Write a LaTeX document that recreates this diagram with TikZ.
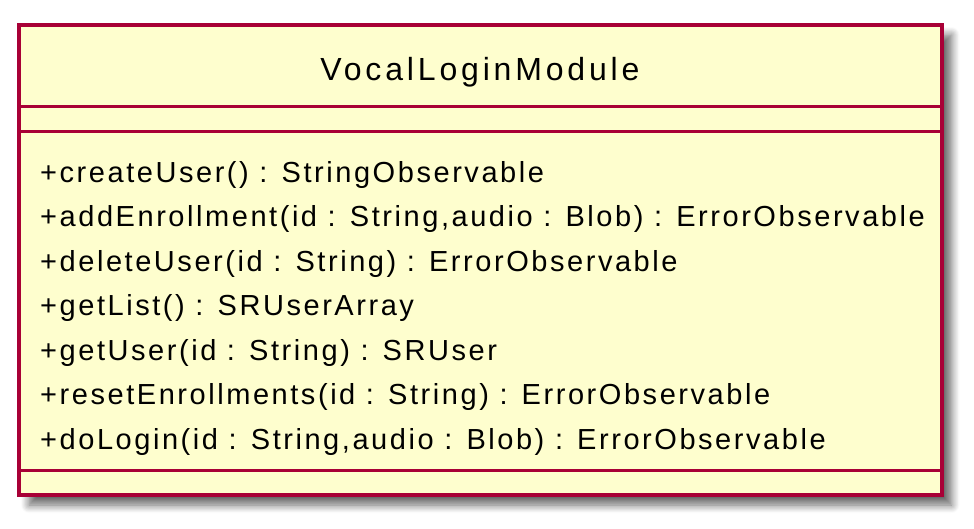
\documentclass[tikz,border=0pt]{standalone}
\usepackage{fontspec}
\setmainfont{Liberation Sans}
\usetikzlibrary{shadows.blur}

\definecolor{umlfill}{HTML}{FEFECE}
\definecolor{umlline}{HTML}{A80036}

\tikzstyle{classbox}=[draw=umlline,fill=umlfill,line width=4pt,
	blur shadow={shadow xshift=10pt,shadow yshift=-10pt,shadow blur radius=8pt,shadow blur steps=10,shadow opacity=60}]
\tikzstyle{sep}=[draw=umlline,line width=3.5pt]
\tikzstyle{title}=[font=\fontsize{32}{38}\selectfont\addfontfeature{LetterSpace=12},inner sep=0pt]
\tikzstyle{method}=[font=\fontsize{29}{34}\selectfont\addfontfeature{LetterSpace=8.8},inner sep=0pt,anchor=base west]

\begin{document}
\begin{tikzpicture}[x=1pt,y=-1pt]
	\useasboundingbox (0,0) rectangle (974,528);

	\draw [classbox] (19,25) rectangle (941.5,495);

	\node (T) at (480,80) [title,anchor=base] {VocalLoginModule};

	\coordinate (s1l) at (19,106.5);
	\coordinate (s1r) at (941.5,106.5);
	\coordinate (s2l) at (19,131.5);
	\coordinate (s2r) at (941.5,131.5);
	\coordinate (s3l) at (19,470.5);
	\coordinate (s3r) at (941.5,470.5);

	\draw [sep] (s1l) -- (s1r);
	\draw [sep] (s2l) -- (s2r);
	\draw [sep] (s3l) -- (s3r);

		\node (m1) at (40,182) [method] {+createUser() : StringObservable};
		\node (m2) at (40,226.5) [method] {+addEnrollment(id : String,audio : Blob) : ErrorObservable};
		\node (m3) at (40,271) [method] {+deleteUser(id : String) : ErrorObservable};
		\node (m4) at (40,315.5) [method] {+getList() : SRUserArray};
		\node (m5) at (40,360) [method] {+getUser(id : String) : SRUser};
		\node (m6) at (40,404.5) [method] {+resetEnrollments(id : String) : ErrorObservable};
		\node (m7) at (40,449) [method] {+doLogin(id : String,audio : Blob) : ErrorObservable};

\end{tikzpicture}
\end{document}
